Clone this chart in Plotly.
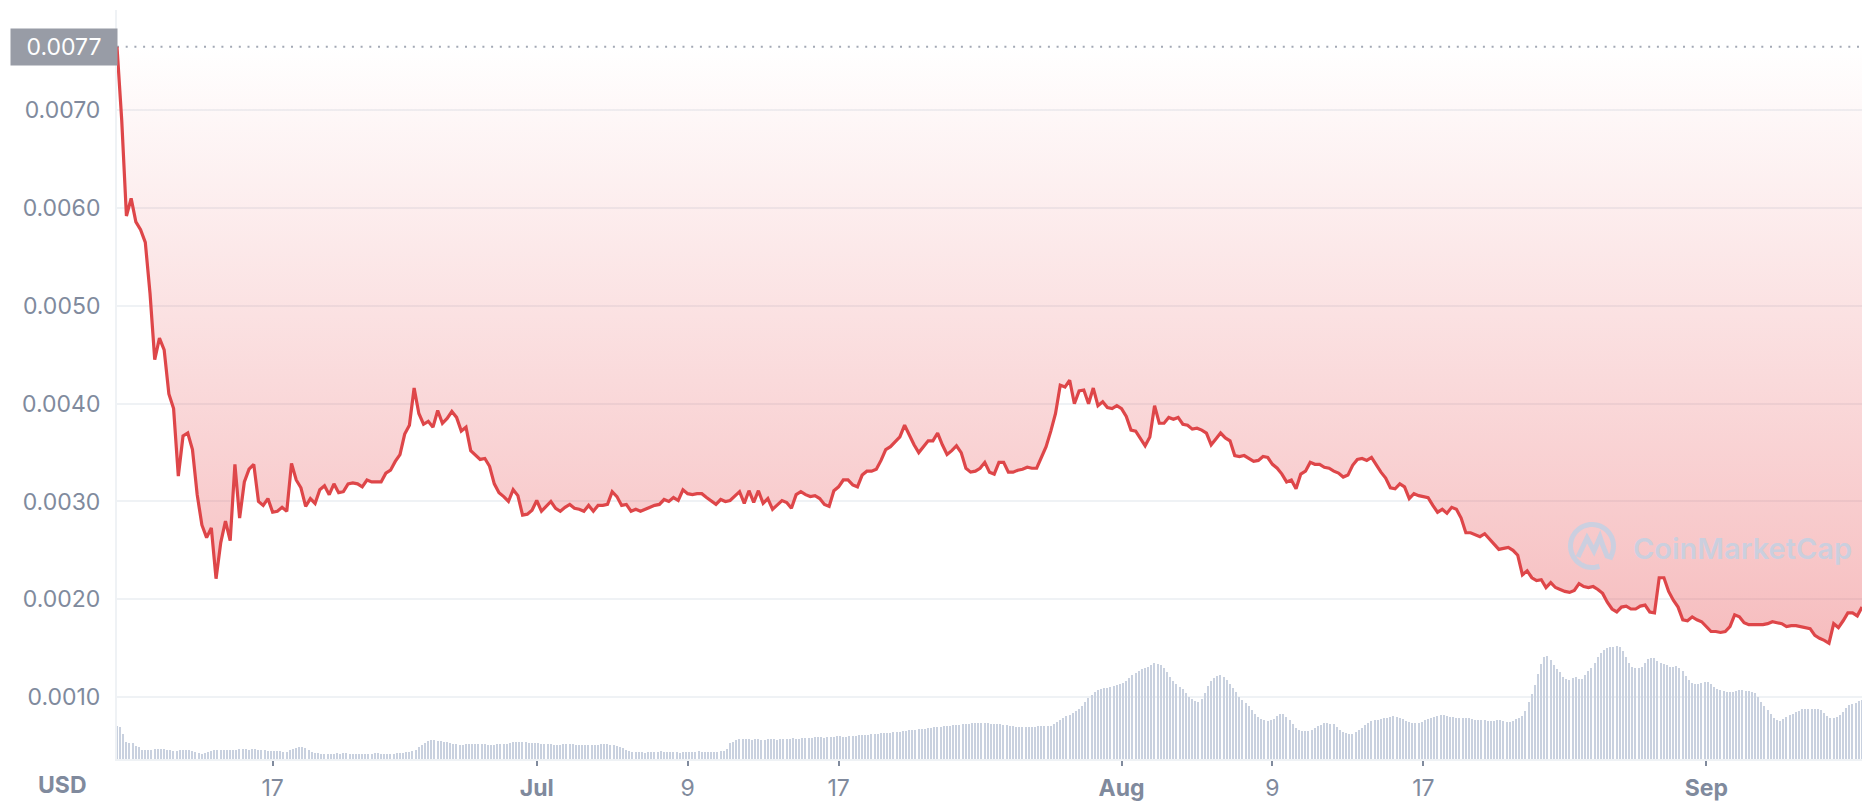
import math
import plotly.graph_objects as go
import pandas as pd

# ---------------- data ----------------
start = pd.Timestamp("2021-06-08 18:00")
end = pd.Timestamp("2021-09-09 06:00")

# price in USD, one value every 6 hours
price_usd = [
    0.00765, 0.0069, 0.00592, 0.0061, 0.00586, 0.00578, 0.00565, 0.00513, 0.00445, 0.00467,
    0.00455, 0.0041, 0.00395, 0.00326, 0.00367, 0.0037, 0.00353, 0.00307, 0.00276, 0.00263,
    0.00273, 0.00221, 0.00258, 0.0028, 0.0026, 0.00338, 0.00283, 0.0032, 0.00333, 0.00338,
    0.003, 0.00296, 0.00303, 0.00289, 0.0029, 0.00294, 0.0029, 0.00339, 0.00322, 0.00314,
    0.00295, 0.00303, 0.00298, 0.00312, 0.00316, 0.00307, 0.00318, 0.00309, 0.0031, 0.00318,
    0.00319, 0.00318, 0.00315, 0.00322, 0.0032, 0.0032, 0.0032, 0.00329, 0.00332, 0.00341,
    0.00348, 0.00369, 0.00378, 0.00416, 0.0039, 0.00379, 0.00382, 0.00376, 0.00393, 0.0038,
    0.00385, 0.00392, 0.00386, 0.00372, 0.00376, 0.00352, 0.00348, 0.00343, 0.00344, 0.00336,
    0.00318, 0.00309, 0.00305, 0.003, 0.00312, 0.00306, 0.00286, 0.00287, 0.00291, 0.00301,
    0.0029, 0.00295, 0.003, 0.00293, 0.0029, 0.00294, 0.00297, 0.00293, 0.00292, 0.0029,
    0.00296, 0.0029, 0.00296, 0.00296, 0.00297, 0.0031, 0.00305, 0.00296, 0.00297, 0.0029,
    0.00292, 0.0029, 0.00292, 0.00294, 0.00296, 0.00297, 0.00302, 0.003, 0.00304, 0.00301,
    0.00312, 0.00308, 0.00307, 0.00308, 0.00308, 0.00304, 0.003, 0.00297, 0.00302, 0.003,
    0.00301, 0.00305, 0.0031, 0.00298, 0.00311, 0.00299, 0.00311, 0.00298, 0.00303, 0.00292,
    0.00296, 0.00301, 0.00299, 0.00293, 0.00307, 0.0031, 0.00307, 0.00305, 0.00306, 0.00303,
    0.00297, 0.00295, 0.00311, 0.00315, 0.00322, 0.00322, 0.00317, 0.00315, 0.00327, 0.00331,
    0.00331, 0.00333, 0.00342, 0.00353, 0.00356, 0.00361, 0.00366, 0.00378, 0.00368, 0.00358,
    0.0035, 0.00356, 0.00362, 0.00362, 0.0037, 0.00358, 0.00348, 0.00352, 0.00357, 0.0035,
    0.00334, 0.0033, 0.00331, 0.00334, 0.0034, 0.0033, 0.00328, 0.0034, 0.0034, 0.0033,
    0.0033, 0.00332, 0.00333, 0.00335, 0.00334, 0.00334, 0.00345, 0.00356, 0.00372, 0.0039,
    0.00419, 0.00417, 0.00424, 0.004, 0.00413, 0.00414, 0.004, 0.00416, 0.00398, 0.00402,
    0.00396, 0.00395, 0.00398, 0.00395, 0.00387, 0.00373, 0.00372, 0.00365, 0.00357, 0.00366,
    0.00398, 0.0038, 0.0038, 0.00386, 0.00384, 0.00386, 0.00379, 0.00378, 0.00374, 0.00375,
    0.00373, 0.0037, 0.00358, 0.00364, 0.0037, 0.00365, 0.00362, 0.00347, 0.00346, 0.00347,
    0.00344, 0.00341, 0.00342, 0.00346, 0.00345, 0.00338, 0.00334, 0.00328, 0.0032, 0.00322,
    0.00313, 0.00328, 0.00331, 0.0034, 0.00338, 0.00338, 0.00335, 0.00334, 0.00331, 0.00329,
    0.00325, 0.00327, 0.00337, 0.00343, 0.00344, 0.00342, 0.00345, 0.00337, 0.0033, 0.00324,
    0.00314, 0.00313, 0.00318, 0.00315, 0.00303, 0.00308, 0.00306, 0.00305, 0.00304, 0.00296,
    0.00289, 0.00292, 0.00288, 0.00294, 0.00292, 0.00283, 0.00268, 0.00268, 0.00266, 0.00264,
    0.00267, 0.00262, 0.00257, 0.00251, 0.00252, 0.00253, 0.0025, 0.00245, 0.00225, 0.00229,
    0.00222, 0.00219, 0.0022, 0.00212, 0.00217, 0.00212, 0.0021, 0.00208, 0.00207, 0.00209,
    0.00216, 0.00213, 0.00212, 0.00213, 0.0021, 0.00206, 0.00197, 0.0019, 0.00187, 0.00192,
    0.00193, 0.0019, 0.0019, 0.00193, 0.00194, 0.00187, 0.00186, 0.00222, 0.00222, 0.00208,
    0.00199, 0.00192, 0.00179, 0.00178, 0.00182, 0.00179, 0.00177, 0.00172, 0.00167, 0.00167,
    0.00166, 0.00167, 0.00172, 0.00184, 0.00182, 0.00176, 0.00174, 0.00174, 0.00174, 0.00174,
    0.00175, 0.00177, 0.00176, 0.00175, 0.00172, 0.00173, 0.00173, 0.00172, 0.00171, 0.0017,
    0.00163, 0.0016, 0.00158, 0.00155, 0.00175, 0.00171, 0.00178, 0.00186, 0.00186, 0.00183,
    0.00192,
]

# traded volume (relative units), one value every 4 hours
volume = [
    33, 32, 25, 17, 16, 16, 13, 12, 9, 9, 9, 9, 10, 10,
    10, 10, 9, 9, 8, 8, 9, 9, 9, 9, 8, 7, 6, 5, 6, 7,
    8, 9, 9, 9, 9, 9, 9, 9, 9, 10, 10, 10, 9, 10, 10, 9, 9, 9,
    8, 8, 8, 8, 8, 7, 7, 9, 10, 11, 12, 12, 11, 9, 7,
    6, 6, 5, 5, 5, 5, 5, 6, 5, 6, 6, 5, 5, 5, 5, 5, 5, 5, 5, 6,
    6, 5, 5, 5, 5, 5, 6, 6, 6, 7, 7,
    8, 9, 12, 14, 16, 18, 19, 19, 18, 18, 17, 17, 16, 15, 15, 14, 14,
    15, 15, 15, 15, 15, 15, 15, 14, 14, 14, 15, 15, 15, 15, 16, 17, 17, 17, 17, 17,
    16, 16, 16, 16, 15, 15, 15, 15, 14, 14, 14, 15, 15, 15, 15, 14, 14, 14, 14, 14,
    14, 14, 14, 15, 15, 15, 14, 14, 13, 12, 11, 9, 8, 7,
    7, 7, 7, 6, 7, 7, 7, 7, 8, 7, 7, 7, 7, 7, 6, 7, 7, 7, 7, 7, 8, 7, 7, 7, 7, 7, 7, 8, 8,
    10, 16, 17, 19, 20,
    20, 20, 20, 19, 20, 20, 19, 19, 20, 20, 20, 19, 20, 20, 20, 20, 21, 20, 20, 21, 21, 21,
    21, 22, 22, 22, 21, 22, 22, 22, 23, 23, 22, 22, 23, 23, 23, 24, 24, 24, 24, 25,
    25, 25, 26, 26, 26, 26, 27, 27, 27, 28, 28, 29, 29, 29, 30, 30, 30, 31, 31, 32, 32, 32, 33, 33, 33,
    34, 34, 34, 35, 35, 35, 36, 36, 36, 36, 36, 36, 35, 35, 35,
    35, 34, 34, 33, 33, 32, 32, 32, 32, 32,
    32, 32, 33, 33, 33, 33, 33, 35, 37, 39,
    41, 43, 44, 46, 48, 50, 53, 57, 61, 64,
    67, 69, 70, 71, 71, 72, 73, 74, 75, 76,
    78, 81, 84, 86, 88, 90, 91, 92, 94, 96,
    95, 94, 91, 87, 82, 78, 75, 72, 70, 66,
    62, 60, 58, 57, 60, 66, 73, 78, 81, 83,
    84, 82, 79, 75, 71, 67, 62, 59, 56, 53,
    49, 45, 42, 40, 39, 38, 39, 40, 43, 45,
    45, 42, 39, 35, 31, 29, 28, 28, 28, 29,
    31, 33, 34, 36, 36, 35, 35, 32, 29, 27,
    26, 25, 25, 27, 29, 31, 34, 36, 38, 39,
    39, 40, 41, 41, 42, 43, 42, 41, 40, 38,
    37, 36, 36, 36, 37, 39, 40, 41, 42, 43,
    44, 44, 43, 42, 42, 41, 41, 41, 41, 41,
    40, 39, 39, 39, 39, 38, 38, 38, 39, 39,
    38, 37, 37, 38, 40, 41, 43, 48, 57, 65,
    74, 85, 95, 102, 103, 99, 94, 90, 87, 82,
    80, 79, 81, 82, 80, 80, 84, 88, 91, 96,
    102, 106, 109, 111, 112, 112, 113, 112, 108, 102,
    96, 92, 91, 91, 92, 96, 100, 101, 101, 98,
    96, 95, 94, 92, 92, 93, 91, 88, 83, 79,
    76, 75, 75, 76, 77, 77, 75, 72, 70, 69,
    68, 67, 67, 67, 68, 69, 69, 68, 68, 67,
    66, 62, 57, 53, 49, 45, 41, 39, 38, 40,
    42, 44, 45, 47, 48, 50, 50, 50, 50, 50,
    50, 49, 46, 43, 41, 41, 42, 44, 47, 51,
    54, 55, 56, 58, 59,
]

tick_dates = ["2021-06-17", "2021-07-01", "2021-07-09", "2021-07-17",
              "2021-08-01", "2021-08-09", "2021-08-17", "2021-09-01"]
tick_labels = ["17", "<b>Jul</b>", "9", "17", "<b>Aug</b>", "9", "17", "<b>Sep</b>"]
y_ticks = [0.001, 0.002, 0.003, 0.004, 0.005, 0.006, 0.007]
y_tick_labels = ["0.0010", "0.0020", "0.0030", "0.0040", "0.0050", "0.0060", "0.0070"]
high_label = "0.0077"

# ---------------- figure ----------------
price_time = pd.date_range(start, periods=len(price_usd), freq="6h")
vol_time = pd.date_range(start, periods=len(volume), freq="4h")
top = max(price_usd)

W, H = 1862, 808
ML, MR, MT, MB = 117, 0, 10, 49
PW, PH = W - ML - MR, H - MT - MB

GREY = "#808a9d"
GRID = "#eff2f5"
RED = "#de4649"
WM = "rgba(200,208,224,0.95)"
FS = 23

fig = go.Figure()

fig.add_trace(go.Bar(
    x=vol_time, y=volume, yaxis="y2",
    marker=dict(color="#c9d1df", line=dict(width=0)),
    width=4 * 3600 * 1000 * 0.42, hoverinfo="skip", showlegend=False,
))

fig.add_trace(go.Scatter(
    x=price_time, y=[top] * len(price_usd), mode="lines",
    line=dict(width=0, color="rgba(0,0,0,0)"), hoverinfo="skip", showlegend=False,
))

fig.add_trace(go.Scatter(
    x=price_time, y=price_usd, mode="lines",
    line=dict(color=RED, width=3.2),
    fill="tonexty",
    fillgradient=dict(
        type="vertical",
        colorscale=[[0, "rgba(230,70,75,0.0)"], [1, "rgba(230,70,75,0.36)"]],
        start=top, stop=0.0015,
    ),
    showlegend=False,
))

# dotted high line
fig.add_shape(type="line", xref="paper", yref="y", x0=0, x1=1, y0=top, y1=top,
              line=dict(color="#a3a9b5", width=2, dash="2px,6.7px"), layer="below")


# CoinMarketCap watermark logo
def to_paper(px, py):
    return (px - ML) / PW, (MT + PH - py) / PH


cx, cy, r = 1592, 546, 21.5
arc = []
for i in range(0, 61):
    th = math.radians(-28 + i * (318 / 60))
    arc.append(to_paper(cx + r * math.cos(th), cy - r * math.sin(th)))
arc_path = "M " + " L ".join(f"{a:.5f},{b:.5f}" for a, b in arc)
fig.add_shape(type="path", xref="paper", yref="paper", path=arc_path,
              line=dict(color=WM, width=5), layer="above")
m_pts = [(1578, 557), (1587, 538), (1594, 551), (1600, 537), (1603, 546), (1607, 556), (1613, 558)]
m_path = "M " + " L ".join("{:.5f},{:.5f}".format(*to_paper(a, b)) for a, b in m_pts)
fig.add_shape(type="path", xref="paper", yref="paper", path=m_path,
              line=dict(color=WM, width=5), layer="above")

fig.add_annotation(
    text="CoinMarketCap", xref="paper", yref="paper",
    x=to_paper(1631, 0)[0], y=to_paper(0, 548)[1], xanchor="left", yanchor="middle",
    showarrow=False, font=dict(family="Inter", size=29, color=WM, weight=600),
)

# highest-value label
fig.add_annotation(
    text=high_label, xref="paper", yref="y", x=0, y=top, xanchor="right", yanchor="middle",
    xshift=1, showarrow=False, bgcolor="#989ca6", width=104, height=34, align="center",
    font=dict(family="Inter", size=FS, color="white"),
)

# currency label
fig.add_annotation(
    text="<b>USD</b>", xref="paper", yref="paper", x=0, y=0, xanchor="right", yanchor="middle",
    xshift=-28, yshift=-26, showarrow=False,
    font=dict(family="Inter", size=FS, color=GREY),
)

fig.update_layout(
    width=W, height=H,
    margin=dict(l=ML, r=MR, t=MT, b=MB, pad=0, autoexpand=False),
    paper_bgcolor="white", plot_bgcolor="white",
    showlegend=False, bargap=0,
    xaxis=dict(
        type="date", range=[start, end], automargin=False,
        tickvals=tick_dates, ticktext=tick_labels,
        ticks="outside", ticklen=5, tickwidth=2, tickcolor=GREY,
        showline=True, linecolor=GRID, linewidth=2,
        showgrid=False, zeroline=False,
        tickfont=dict(family="Inter", size=FS, color=GREY),
        ticklabelstandoff=2,
    ),
    yaxis=dict(
        range=[0.000366, 0.008027], automargin=False,
        tickvals=y_ticks, ticktext=y_tick_labels,
        showline=True, linecolor=GRID, linewidth=2,
        showgrid=True, gridcolor=GRID, gridwidth=2, zeroline=False,
        tickfont=dict(family="Inter", size=FS, color=GREY),
        ticklabelstandoff=10,
    ),
    yaxis2=dict(
        overlaying="y", range=[0, PH], visible=False,
        showgrid=False, zeroline=False,
    ),
)

fig.write_html("out.html", config={"displayModeBar": False},
               post_script="document.body.style.margin='0';")
